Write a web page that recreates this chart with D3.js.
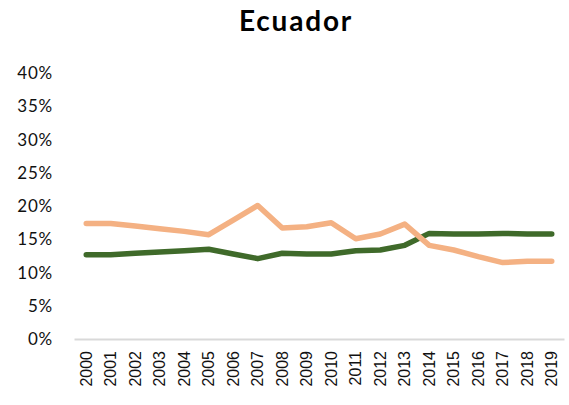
<!DOCTYPE html>
<html lang="en">
<head>
<meta charset="UTF-8">
<title>Ecuador</title>
<script src="https://cdn.jsdelivr.net/npm/d3@7"></script>
<style>
  body { margin: 0; background: #fff; }
  .title { font-family: "Futura", "Century Gothic", Lato, sans-serif; font-weight: 700; letter-spacing: 1.8px; }
  .ylab { font-family: "Futura", "Century Gothic", Lato, sans-serif; letter-spacing: 0.8px; }
  .xlab { font-family: "Liberation Sans", Arial, sans-serif; }
</style>
</head>
<body>
<script>
// data (percent)
var years = ["2000","2001","2002","2003","2004","2005","2006","2007","2008","2009",
             "2010","2011","2012","2013","2014","2015","2016","2017","2018","2019"];
var orangeSeries = [17.4,17.4,17.0,16.6,16.2,15.7,17.9,20.1,16.7,16.9,
                    17.5,15.1,15.8,17.3,14.1,13.4,12.4,11.5,11.7,11.7];
var greenSeries = [12.7,12.7,12.9,13.1,13.3,13.5,12.8,12.1,12.9,12.8,
                   12.8,13.3,13.4,14.1,15.9,15.8,15.8,15.9,15.8,15.8];
var yTicks = [0,5,10,15,20,25,30,35,40];

var width = 569, height = 405;
var svg = d3.select("body").append("svg")
    .attr("width", width)
    .attr("height", height);

var x = d3.scaleBand().domain(years).range([74, 564]);
var y = d3.scaleLinear().domain([0, 40]).range([339, 73.3]);

svg.append("text")
    .attr("class", "title")
    .attr("x", 296)
    .attr("y", 31)
    .attr("text-anchor", "middle")
    .attr("font-size", 28)
    .attr("fill", "#000")
    .text("Ecuador");

// y axis labels, no line
var yAxis = svg.append("g")
    .attr("transform", "translate(53,0)")
    .call(d3.axisLeft(y).tickValues(yTicks).tickSize(0).tickPadding(0).tickFormat(function(d){ return d + "%"; }));
yAxis.select(".domain").remove();
yAxis.selectAll("text")
    .attr("class", "ylab")
    .attr("font-size", 17)
    .attr("fill", "#111");

// x axis
var xAxis = svg.append("g")
    .attr("transform", "translate(0,339)")
    .call(d3.axisBottom(x).tickSize(0));
xAxis.select(".domain").attr("stroke", "#d9d9d9").attr("stroke-width", 2);
xAxis.selectAll("text")
    .attr("class", "xlab")
    .attr("font-size", 16)
    .attr("fill", "#111")
    .attr("transform", "rotate(-90)")
    .attr("text-anchor", "end")
    .attr("dy", "0.35em")
    .attr("y", 0)
    .attr("x", -12);

var line = d3.line()
    .x(function(d, i){ return x(years[i]) + x.bandwidth() / 2; })
    .y(function(d){ return y(d); });

svg.append("path")
    .datum(greenSeries)
    .attr("d", line)
    .attr("fill", "none")
    .attr("stroke", "#3f6a2a")
    .attr("stroke-width", 5.5)
    .attr("stroke-linecap", "round")
    .attr("stroke-linejoin", "round");

svg.append("path")
    .datum(orangeSeries)
    .attr("d", line)
    .attr("fill", "none")
    .attr("stroke", "#f4b183")
    .attr("stroke-width", 5.5)
    .attr("stroke-linecap", "round")
    .attr("stroke-linejoin", "round");
</script>
</body>
</html>
